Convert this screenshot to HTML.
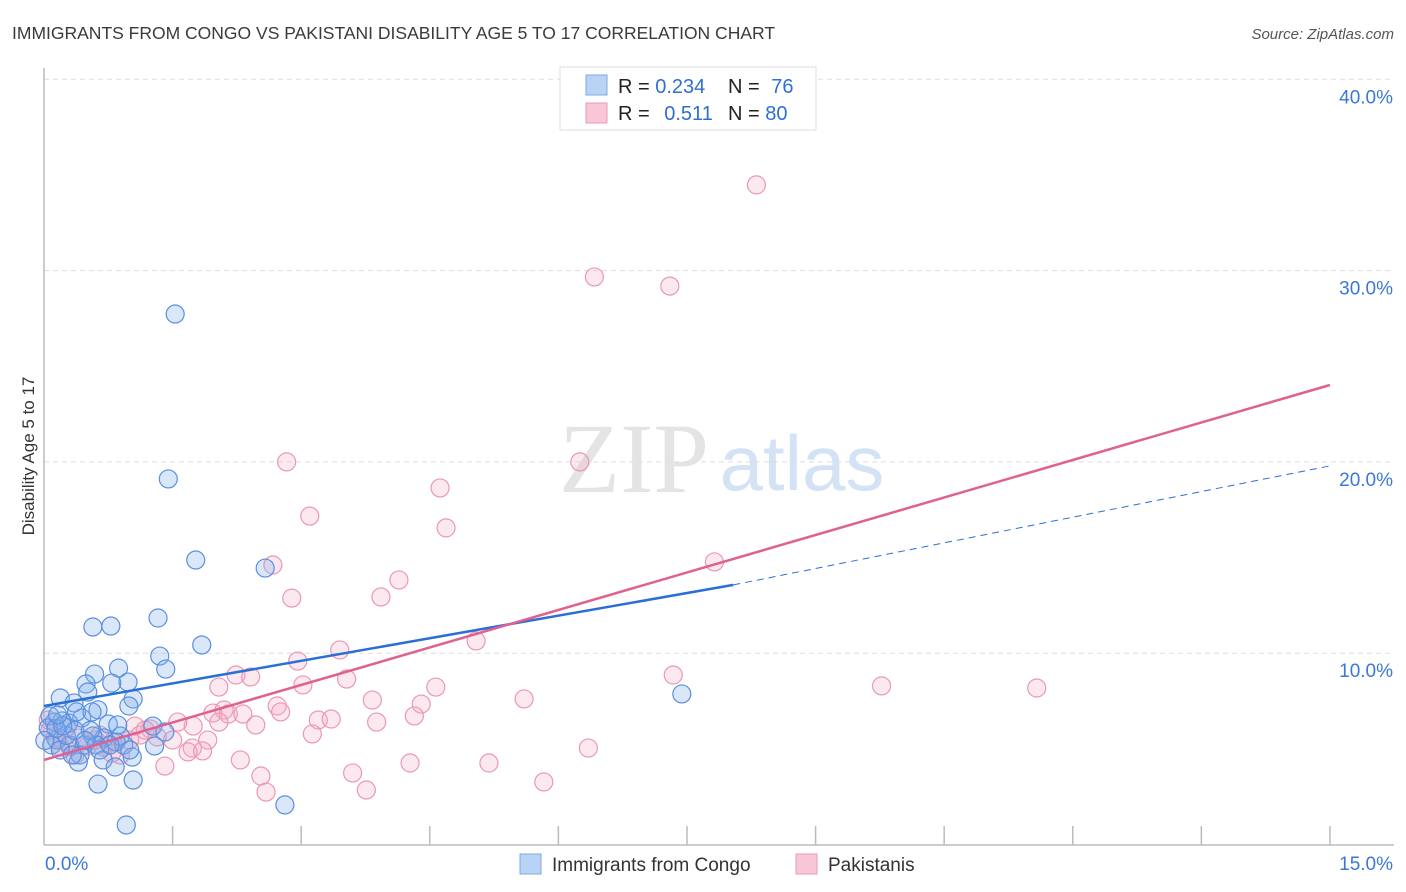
<!DOCTYPE html>
<html><head><meta charset="utf-8"><style>
body{margin:0;background:#fff;font-family:"Liberation Sans",sans-serif;}
#wrap{position:relative;width:1406px;height:892px;overflow:hidden;}
</style></head><body>
<div id="wrap">
<svg id="svg" width="1406" height="892" xmlns="http://www.w3.org/2000/svg">
<text x="12" y="39" font-size="17.5" fill="#3a3a3a">IMMIGRANTS FROM CONGO VS PAKISTANI DISABILITY AGE 5 TO 17 CORRELATION CHART</text>
<text x="1394" y="39" font-size="15" fill="#555" font-style="italic" text-anchor="end">Source: ZipAtlas.com</text>
<text x="634" y="492" font-size="100" fill="#e4e4e4" font-family="Liberation Serif,serif" text-anchor="middle">ZIP</text>
<text x="802" y="490" font-size="78" fill="#d3e3f5" text-anchor="middle">atlas</text>
<text transform="translate(34,456) rotate(-90)" font-size="17" fill="#333" text-anchor="middle">Disability Age 5 to 17</text>
<g id="grid"></g><g id="pts"></g><g id="lines"></g>
<g>
<rect x="560" y="67" width="256" height="63" fill="#fff" stroke="#ddd"/>
<rect x="586" y="75" width="21" height="20" fill="#b9d3f5" stroke="#7ea9e6"/>
<rect x="586" y="103" width="21" height="20" fill="#f9c6d6" stroke="#eb9ab6"/>
<text x="618" y="93" font-size="20" fill="#222">R = <tspan fill="#2f6fd3">0.234</tspan></text>
<text x="728" y="93" font-size="20" fill="#222">N = <tspan fill="#2f6fd3" dx="6">76</tspan></text>
<text x="618" y="120" font-size="20" fill="#222">R = <tspan fill="#2f6fd3" dx="9">0.511</tspan></text>
<text x="728" y="120" font-size="20" fill="#222">N = <tspan fill="#2f6fd3">80</tspan></text>
</g>
<g>
<rect x="520" y="854" width="21" height="20" fill="#b9d3f5" stroke="#7ea9e6"/>
<text x="552" y="871" font-size="19" fill="#333">Immigrants from Congo</text>
<rect x="796" y="854" width="21" height="20" fill="#f9c6d6" stroke="#eb9ab6"/>
<text x="828" y="871" font-size="19" fill="#333">Pakistanis</text>
</g>
</svg>
</div>
<script>
const congoX=[1.53,1.45,1.77,2.58,1.33,0.57,0.78,1.84,1.35,1.42,0.59,0.87,0.98,0.79,0.49,0.19,0.51,1.04,0.63,0.99,0.35,0.21,0.44,0.75,1.27,1.41,0.89,0.70,0.57,0.29,0.12,0.07,0.15,0.30,0.47,0.61,0.84,0.93,1.29,0.42,0.40,0.69,0.83,1.03,0.63,1.04,0.96,2.81,7.44,0.05,0.09,0.19,0.26,0.36,0.65,0.77,0.54,0.14,0.01,0.33,0.22,0.48,0.86,1.0,0.16,0.38,0.56];
const congoY=[27.73,19.11,14.87,14.45,11.84,11.37,11.42,10.43,9.85,9.17,8.91,9.22,8.49,8.44,8.39,7.66,7.97,7.61,7.04,7.24,7.40,6.46,6.61,6.30,6.19,5.88,5.67,5.57,5.67,6.35,6.40,6.72,5.46,5.20,5.20,5.20,5.36,5.20,5.15,4.68,4.31,4.42,4.05,4.57,3.16,3.37,1.02,2.07,7.87,6.1,5.2,4.94,5.7,5.96,4.94,5.2,5.96,6.06,5.44,4.68,6.2,5.44,6.25,4.94,6.77,6.93,6.93];
const pakX=[8.31,6.42,7.30,2.83,6.25,4.62,3.10,4.69,7.82,2.67,4.14,2.89,3.93,5.04,3.45,2.96,2.24,2.41,2.04,3.02,3.53,4.57,5.60,3.83,7.34,9.77,11.58,4.40,2.10,1.97,2.15,2.32,2.72,2.76,3.20,3.35,3.88,4.32,2.47,1.74,1.56,2.04,1.91,1.50,1.73,1.32,1.68,1.85,1.41,2.29,3.13,2.53,2.59,3.60,3.76,4.27,5.19,5.83,6.35,1.06,1.24,1.0,0.80,0.69,0.51,0.30,0.19,0.13,0.05,0.07,0.26,0.42,0.60,0.89,1.12,0.36,0.21,0.65,0.79,1.18];
const pakY=[34.48,29.67,29.19,20.0,20.0,18.64,17.17,16.55,14.77,14.61,13.83,12.88,12.94,10.64,10.17,9.59,8.86,8.76,8.23,8.34,8.65,8.23,7.61,7.55,8.86,8.29,8.18,7.34,7.03,6.87,6.82,6.82,7.24,6.93,6.51,6.56,6.40,6.72,6.25,6.19,6.40,6.40,5.46,5.46,5.04,5.62,4.84,4.89,4.10,4.42,5.78,3.58,2.74,3.74,2.85,4.26,4.26,3.27,5.04,6.19,6.04,5.46,5.36,5.10,5.15,5.10,5.10,5.57,6.51,5.98,6.09,5.57,5.46,4.68,5.72,4.68,5.46,5.72,4.78,5.98];
const yTicks=[10,20,30,40];
const yTickLabels=["10.0%","20.0%","30.0%","40.0%"];
const congoTrend=[7.24,13.57,19.79];
const pakTrend=[4.42,24.02];

const NS="http://www.w3.org/2000/svg";
const sx=v=>44+v*85.73, sy=v=>844.5-v*19.13;
function mk(tag,attrs,parent){const e=document.createElementNS(NS,tag);for(const k in attrs)e.setAttribute(k,attrs[k]);parent.appendChild(e);return e;}
const grid=document.getElementById('grid'),pts=document.getElementById('pts'),lines=document.getElementById('lines');
yTicks.forEach((t,i)=>{
  const l=mk('line',{x1:44,x2:1394,y1:sy(t),y2:sy(t),stroke:'#ddd','stroke-dasharray':'5,4'},grid);
  
  
  const tx=mk('text',{x:1393,y:sy(t)+24,'font-size':19,fill:'#3a78d8','text-anchor':'end'},grid);
  tx.textContent=yTickLabels[i];
  
  
});
let ax=mk('line',{x1:44,x2:44,y1:68,y2:845,stroke:'#bbb','stroke-width':1.5},grid);


ax=mk('line',{x1:44,x2:1394,y1:845,y2:845,stroke:'#bbb','stroke-width':1.5},grid);


for(let k=1;k<=10;k++){const t=mk('line',{x1:sx(k*1.5),x2:sx(k*1.5),y1:826,y2:845,stroke:'#bbb','stroke-width':1.5},grid);
  
  }
let xl=mk('text',{x:45,y:870,'font-size':19,fill:'#3a78d8'},grid);xl.textContent='0.0%';


xl=mk('text',{x:1393,y:870,'font-size':19,fill:'#3a78d8','text-anchor':'end'},grid);xl.textContent='15.0%';


pakX.forEach((x,i)=>{const c=mk('circle',{cx:sx(x),cy:sy(pakY[i]),r:9,fill:'rgba(246,172,197,0.28)',stroke:'#eb97b4','stroke-width':1.2},pts);
  
  });
congoX.forEach((x,i)=>{const c=mk('circle',{cx:sx(x),cy:sy(congoY[i]),r:9,fill:'rgba(130,175,236,0.3)',stroke:'#5a8fe0','stroke-width':1.2},pts);
  
  });
let tl=mk('line',{x1:sx(0),y1:sy(congoTrend[0]),x2:sx(8.04),y2:sy(congoTrend[1]),stroke:'#2a6fd6','stroke-width':2.5},lines);


tl=mk('line',{x1:sx(8.04),y1:sy(congoTrend[1]),x2:sx(15),y2:sy(congoTrend[2]),stroke:'#2a6fd6','stroke-width':1,'stroke-dasharray':'7,5'},lines);


tl=mk('line',{x1:sx(0),y1:sy(pakTrend[0]),x2:sx(15),y2:sy(pakTrend[1]),stroke:'#e0608f','stroke-width':2.5},lines);


</script>
</body></html>
